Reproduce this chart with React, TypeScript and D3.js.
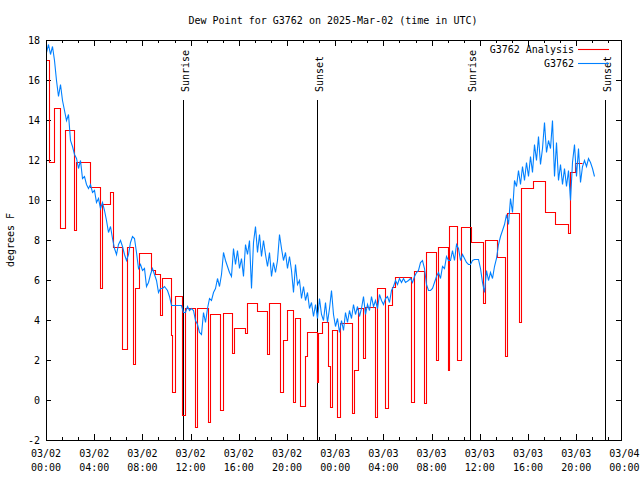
import React from "react";
import * as d3 from "d3";

const title = "Dew Point for G3762 on 2025-Mar-02 (time in UTC)";
const yAxisLabel = "degrees F";
const analysisName = "G3762 Analysis";
const stationName = "G3762";

// x tick labels (every 4 hours, minutes from 03/02 00:00)
const xTickMinutes = [0, 240, 480, 720, 960, 1200, 1440, 1680, 1920, 2160, 2400, 2640, 2880];
const xTickDates = ["03/02", "03/02", "03/02", "03/02", "03/02", "03/02", "03/03", "03/03", "03/03", "03/03", "03/03", "03/03", "03/04"];
const xTickTimes = ["00:00", "04:00", "08:00", "12:00", "16:00", "20:00", "00:00", "04:00", "08:00", "12:00", "16:00", "20:00", "00:00"];
const yTicks = [-2, 0, 2, 4, 6, 8, 10, 12, 14, 16, 18];

// sunrise / sunset markers (minutes from 03/02 00:00)
const sunLabels = ["Sunrise", "Sunset", "Sunrise", "Sunset"];
const sunMinutes = [684, 1351, 2113, 2785];

// observed station dew point, one value every 10 minutes from 00:00
const stationValues = [
  17.4, 17.8, 17.3, 17.7, 17.0, 16.0, 15.2, 15.8, 15.0, 14.5,
  14.0, 14.3, 13.0, 12.7, 12.3, 12.1, 11.6, 12.0, 11.1, 11.2,
  10.8, 10.6, 10.8, 10.4, 10.5, 9.9, 10.1, 9.6, 9.9, 9.5,
  9.0, 8.4, 8.7, 8.1, 7.6, 7.3, 7.8, 8.0, 7.7, 7.3,
  7.0, 7.3, 7.9, 8.2, 8.1, 7.4, 6.6, 6.8, 6.5, 6.6,
  5.7, 5.9, 6.3, 6.6, 6.3, 6.0, 5.4, 5.6, 5.6, 5.7,
  5.5, 5.2, 4.75, 4.75, 4.75, 4.75, 4.75, 4.75, 4.4, 4.4,
  4.7, 4.5, 4.6, 4.5, 4.0, 3.8, 3.4, 3.3, 4.4, 3.9,
  4.6, 5.1, 5.0, 5.4, 5.6, 6.1, 5.7, 6.3, 7.4, 7.0,
  6.7, 6.4, 6.2, 7.6, 6.8, 7.5, 6.6, 7.1, 6.2, 7.8,
  7.3, 8.0, 5.6, 7.9, 8.7, 7.4, 8.3, 7.2, 8.0, 7.3,
  6.7, 7.4, 6.2, 6.9, 6.4, 7.0, 8.3, 7.6, 7.0, 7.4,
  6.6, 7.2, 6.5, 5.4, 6.8, 5.8, 6.0, 5.1, 5.7, 5.0,
  5.4, 4.6, 4.9, 4.2, 4.8, 4.1, 5.1, 4.3, 4.0, 4.9,
  3.9, 4.6, 5.5, 4.3, 3.7, 4.1, 3.4, 4.0, 3.5, 4.4,
  3.9, 4.5, 4.1, 4.8, 4.3, 4.7, 4.2, 4.6, 5.2, 4.3,
  4.8, 4.5, 5.2, 4.7, 5.0, 4.6, 5.3, 5.0, 4.8, 5.1,
  5.2, 4.9, 5.5, 5.7, 6.0, 5.8, 6.1, 5.9, 6.1, 5.9,
  6.0, 6.1, 5.9, 6.2, 6.4, 6.5, 6.9, 7.0, 6.6, 5.8,
  5.5, 5.5, 5.6, 5.9, 6.2, 6.4, 6.1, 6.7, 6.6, 7.2,
  7.0, 7.0, 7.5, 7.0, 7.8, 7.6, 7.0, 7.3, 7.1, 6.9,
  6.8, 6.8, 7.0, 7.05, 7.05, 7.05, 6.6, 5.9, 5.4, 6.5,
  6.0, 6.4, 6.1, 6.7, 7.1, 7.8, 8.2, 8.5, 8.8, 9.3,
  8.8, 10.1, 9.4, 11.0, 10.7, 11.5, 10.8, 11.7, 11.0, 11.9,
  11.2, 12.2, 11.4, 12.8, 12.0, 13.2, 11.8, 12.6, 13.9, 12.4,
  13.0, 12.6, 14.0, 11.2, 12.9, 11.0, 11.8, 10.8, 11.6, 10.7,
  11.5, 10.0, 11.9, 12.8, 11.2, 12.6, 10.9, 11.7, 12.0, 11.7,
  12.1, 11.9, 11.6, 11.2,
];
const stationIntervalMinutes = 10;

// analysis dew point: step changes (minutes from 00:00, value held until the next time)
const analysisMinutes = [
  0, 15, 40, 70, 95, 140, 150, 220, 270, 280,
  320, 335, 380, 405, 435, 445, 465, 525, 545, 570,
  580, 620, 625, 640, 675, 690, 740, 750, 805, 815,
  865, 880, 925, 935, 990, 1000, 1050, 1100, 1110, 1165,
  1180, 1200, 1230, 1240, 1265, 1290, 1300, 1350, 1355, 1375,
  1405, 1415, 1425, 1450, 1465, 1525, 1535, 1555, 1580, 1590,
  1640, 1650, 1690, 1705, 1725, 1740, 1815, 1830, 1880, 1890,
  1940, 1950, 2000, 2005, 2045, 2065, 2115, 2175, 2185, 2245,
  2285, 2295, 2355, 2365, 2425, 2485, 2535, 2600, 2610, 2635,
  2670,
];
const analysisValues = [
  17.0, 11.9, 14.6, 8.6, 13.5, 8.5, 11.9, 10.65, 5.6, 9.8,
  10.4, 7.65, 2.55, 7.65, 1.8, 5.6, 7.35, 6.5, 6.3, 4.25,
  6.1, 3.25, 0.4, 5.2, -0.75, 4.6, -1.35, 4.6, -1.1, 4.3,
  -0.5, 4.35, 2.35, 3.6, 3.35, 4.85, 4.45, 2.3, 4.85, 0.4,
  3.0, 4.5, -0.1, 4.1, -0.3, 2.2, 3.4, 0.9, 3.35, 3.9,
  1.7, -0.35, 3.5, -0.85, 3.85, -0.65, 1.5, 4.6, 2.1, 4.65,
  -0.85, 5.6, -0.4, 4.75, 5.65, 6.15, -0.1, 6.45, -0.15, 7.4,
  2.0, 7.65, 1.5, 8.7, 2.0, 8.65, 7.9, 4.85, 8.0, 7.15,
  2.2, 9.35, 3.9, 10.6, 10.95, 9.4, 8.8, 8.35, 11.4, 11.85,
  11.85,
];

const RED = "#ff0000";
const BLUE = "#0080ff";
const FONT = "'DejaVu Sans Mono', monospace";

export default function App() {
  const W = 640;
  const H = 480;
  const left = 46;
  const right = 621;
  const top = 40;
  const bottom = 440;

  const x = d3.scaleLinear().domain([0, 2880]).range([left, 624.4]);
  const y = d3.scaleLinear().domain([-2, 18]).range([bottom, top]);

  const px = (v: number) => Math.round(v) + 0.5;

  const stationData = stationValues.map((v, i) => [i * stationIntervalMinutes, v] as [number, number]);
  const analysisData = analysisMinutes.map((m, i) => [m, analysisValues[i]] as [number, number]);

  const stationLine = d3
    .line<[number, number]>()
    .x((d) => px(x(d[0])))
    .y((d) => px(y(d[1])))
    .curve(d3.curveLinear);
  const analysisLine = d3
    .line<[number, number]>()
    .x((d) => px(x(d[0])))
    .y((d) => px(y(d[1])))
    .curve(d3.curveStepAfter);

  const minorX = d3.range(0, 2862, 80);

  return (
    <svg
      width={W}
      height={H}
      style={{ display: "block", background: "#fff", position: "absolute", left: 0, top: 0 }}
    >
      <rect x={0} y={0} width={W} height={H} fill="#fff" />
      <defs>
        <clipPath id="plotClip">
          <rect x={left} y={top} width={right - left + 1} height={bottom - top + 1} />
        </clipPath>
      </defs>
      <text x={333} y={24} textAnchor="middle" fontFamily={FONT} fontSize={10} fill="#000">
        {title}
      </text>

      {/* y ticks + labels */}
      {yTicks.map((t) => (
        <g key={"y" + t}>
          <line x1={left} x2={left + 5} y1={px(y(t))} y2={px(y(t))} stroke="#000" shapeRendering="crispEdges" />
          <line x1={right - 5} x2={right} y1={px(y(t))} y2={px(y(t))} stroke="#000" shapeRendering="crispEdges" />
          <text x={40} y={y(t) + 3.5} textAnchor="end" fontFamily={FONT} fontSize={10} fill="#000">
            {t}
          </text>
        </g>
      ))}

      {/* x ticks */}
      {minorX.map((m) => {
        const len = m % 240 === 0 ? 6 : 3;
        return (
          <g key={"xm" + m}>
            <line x1={px(x(m))} x2={px(x(m))} y1={bottom} y2={bottom - len} stroke="#000" shapeRendering="crispEdges" />
            <line x1={px(x(m))} x2={px(x(m))} y1={top} y2={top + len} stroke="#000" shapeRendering="crispEdges" />
          </g>
        );
      })}
      {xTickMinutes.map((m, i) => (
        <g key={"xl" + m}>
          <text x={x(m)} y={456.5} textAnchor="middle" fontFamily={FONT} fontSize={10} fill="#000">
            {xTickDates[i]}
          </text>
          <text x={x(m)} y={470.5} textAnchor="middle" fontFamily={FONT} fontSize={10} fill="#000">
            {xTickTimes[i]}
          </text>
        </g>
      ))}

      <text
        transform={`translate(14,240) rotate(-90)`}
        textAnchor="middle"
        fontFamily={FONT}
        fontSize={10}
        fill="#000"
      >
        {yAxisLabel}
      </text>

      {/* sunrise / sunset */}
      {sunMinutes.map((m, i) => (
        <g key={"sun" + i}>
          <line x1={px(x(m))} x2={px(x(m))} y1={100} y2={bottom} stroke="#000" shapeRendering="crispEdges" />
          <text
            transform={`translate(${x(m) + 6},92) rotate(-90)`}
            textAnchor="start"
            fontFamily={FONT}
            fontSize={10}
            fill="#000"
          >
            {sunLabels[i]}
          </text>
        </g>
      ))}

      <g clipPath="url(#plotClip)">
        <path d={analysisLine(analysisData) || ""} fill="none" stroke={RED} strokeWidth={1.1} />
        <path d={stationLine(stationData) || ""} fill="none" stroke={BLUE} strokeWidth={1.1} />
      </g>

      {/* legend */}
      <text x={574} y={53} textAnchor="end" fontFamily={FONT} fontSize={10} fill="#000">
        {analysisName}
      </text>
      <line x1={578} x2={609} y1={49.5} y2={49.5} stroke={RED} strokeWidth={1.1} />
      <text x={574} y={67} textAnchor="end" fontFamily={FONT} fontSize={10} fill="#000">
        {stationName}
      </text>
      <line x1={578} x2={609} y1={63.5} y2={63.5} stroke={BLUE} strokeWidth={1.1} />

      {/* border */}
      <rect x={left + 0.5} y={top + 0.5} width={right - left} height={bottom - top} fill="none" stroke="#000" shapeRendering="crispEdges" />
    </svg>
  );
}
